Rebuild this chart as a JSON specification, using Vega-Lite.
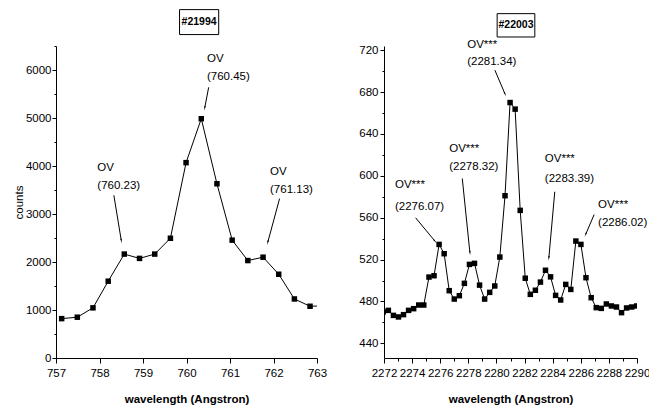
{
  "$schema": "https://vega.github.io/schema/vega-lite/v6.json",
  "background": "white",
  "padding": {"left": 13, "top": 9, "right": 0, "bottom": 0},
  "spacing": 31,
  "datasets": {
    "left": [
      {"x": 757.13, "y": 820}, {"x": 757.49, "y": 850}, {"x": 757.85, "y": 1045},
      {"x": 758.2, "y": 1600}, {"x": 758.57, "y": 2165}, {"x": 758.92, "y": 2075},
      {"x": 759.27, "y": 2165}, {"x": 759.63, "y": 2495}, {"x": 759.99, "y": 4070},
      {"x": 760.34, "y": 4985}, {"x": 760.7, "y": 3630}, {"x": 761.05, "y": 2455},
      {"x": 761.41, "y": 2030}, {"x": 761.76, "y": 2100}, {"x": 762.12, "y": 1745},
      {"x": 762.48, "y": 1230}, {"x": 762.84, "y": 1078}, {"x": 763.2, "y": 1088}
    ],
    "leftText": [
      {"x": 757.95, "y": 3952, "t": "OV"}, {"x": 757.95, "y": 3577, "t": "(760.23)"},
      {"x": 760.47, "y": 6238, "t": "OV"}, {"x": 760.47, "y": 5854, "t": "(760.45)"},
      {"x": 761.92, "y": 3875, "t": "OV"}, {"x": 761.92, "y": 3494, "t": "(761.13)"}
    ],
    "leftArrows": [
      {"x": 758.33, "y": 3390, "x2": 758.5, "y2": 2452},
      {"x": 760.51, "y": 5640, "x2": 760.42, "y2": 5217},
      {"x": 762.14, "y": 3321, "x2": 761.87, "y2": 2417}
    ],
    "leftBox": [{"x": 759.84, "x2": 760.74, "y": 7258, "y2": 6738, "cx": 760.29, "cy": 6998, "t": "#21994"}],
    "right": [
      {"x": 2271.95, "y": 470}, {"x": 2272.31, "y": 471.5}, {"x": 2272.67, "y": 466.7},
      {"x": 2273.03, "y": 465.2}, {"x": 2273.39, "y": 467.4}, {"x": 2273.75, "y": 471.5},
      {"x": 2274.11, "y": 473.1}, {"x": 2274.47, "y": 476.6}, {"x": 2274.83, "y": 476.6},
      {"x": 2275.2, "y": 503.3}, {"x": 2275.56, "y": 504.6}, {"x": 2275.92, "y": 534.5},
      {"x": 2276.28, "y": 525.6}, {"x": 2276.64, "y": 490.3}, {"x": 2277.0, "y": 482.3},
      {"x": 2277.36, "y": 485.5}, {"x": 2277.72, "y": 497.3}, {"x": 2278.08, "y": 515.4},
      {"x": 2278.44, "y": 516.4}, {"x": 2278.8, "y": 495.6}, {"x": 2279.16, "y": 482.3},
      {"x": 2279.52, "y": 488.7}, {"x": 2279.88, "y": 494.8}, {"x": 2280.24, "y": 522.4},
      {"x": 2280.61, "y": 581}, {"x": 2280.97, "y": 670}, {"x": 2281.33, "y": 663.7},
      {"x": 2281.69, "y": 567}, {"x": 2282.05, "y": 502.2}, {"x": 2282.41, "y": 486.8},
      {"x": 2282.77, "y": 490.7}, {"x": 2283.13, "y": 498.5}, {"x": 2283.49, "y": 509.8},
      {"x": 2283.85, "y": 503.5}, {"x": 2284.21, "y": 485.8}, {"x": 2284.57, "y": 481.4},
      {"x": 2284.93, "y": 496.3}, {"x": 2285.29, "y": 491.5}, {"x": 2285.65, "y": 537.7},
      {"x": 2286.01, "y": 534.5}, {"x": 2286.37, "y": 502.7}, {"x": 2286.74, "y": 483.6},
      {"x": 2287.1, "y": 474.1}, {"x": 2287.46, "y": 473.4}, {"x": 2287.82, "y": 477.6},
      {"x": 2288.18, "y": 475.7}, {"x": 2288.54, "y": 474.7}, {"x": 2288.9, "y": 469.3},
      {"x": 2289.26, "y": 473.8}, {"x": 2289.62, "y": 474.7}, {"x": 2289.98, "y": 475.7}
    ],
    "rightText": [
      {"x": 2272.78, "y": 591.1, "t": "OV***"}, {"x": 2272.78, "y": 570.4, "t": "(2276.07)"},
      {"x": 2276.64, "y": 626, "t": "OV***"}, {"x": 2276.64, "y": 608, "t": "(2278.32)"},
      {"x": 2277.92, "y": 725.3, "t": "OV***"}, {"x": 2277.92, "y": 708.8, "t": "(2281.34)"},
      {"x": 2283.44, "y": 616, "t": "OV***"}, {"x": 2283.44, "y": 596.5, "t": "(2283.39)"},
      {"x": 2287.23, "y": 572, "t": "OV***"}, {"x": 2287.23, "y": 554.5, "t": "(2286.02)"}
    ],
    "rightArrows": [
      {"x": 2274.25, "y": 559.9, "x2": 2275.62, "y2": 537.7},
      {"x": 2277.57, "y": 597.4, "x2": 2278.11, "y2": 526.8},
      {"x": 2279.89, "y": 700.9, "x2": 2280.6, "y2": 678.5},
      {"x": 2284.15, "y": 584.8, "x2": 2283.73, "y2": 521.8},
      {"x": 2286.95, "y": 563, "x2": 2286.36, "y2": 544.4}
    ],
    "rightBox": [{"x": 2280.05, "x2": 2282.73, "y": 754.9, "y2": 732.6, "cx": 2281.39, "cy": 743.7, "t": "#22003"}]
  },
  "hconcat": [
    {
      "width": 261,
      "height": 312,
      "encoding": {
        "x": {
          "field": "x", "type": "quantitative",
          "scale": {"domain": [757, 763], "nice": false, "zero": false},
          "axis": {
            "title": "wavelength (Angstron)", "titleFontWeight": "bold", "titlePadding": 15,
            "values": [757, 757.5, 758, 758.5, 759, 759.5, 760, 760.5, 761, 761.5, 762, 762.5, 763],
            "format": "d",
            "labelExpr": "datum.value % 1 === 0 ? datum.label : ''",
            "tickSize": {"condition": {"test": "datum.value % 1 === 0", "value": 5}, "value": 3},
            "labelPadding": 4
          }
        },
        "y": {
          "field": "y", "type": "quantitative",
          "scale": {"domain": [0, 6500], "nice": false, "zero": false},
          "axis": {
            "title": "counts", "titleFontWeight": "normal", "titlePadding": 1,
            "values": [0, 500, 1000, 1500, 2000, 2500, 3000, 3500, 4000, 4500, 5000, 5500, 6000, 6500],
            "format": "d",
            "labelExpr": "datum.value % 1000 === 0 ? datum.label : ''",
            "tickSize": {"condition": {"test": "datum.value % 1000 === 0", "value": 4}, "value": 2},
            "labelPadding": 1
          }
        }
      },
      "layer": [
        {"data": {"name": "left"}, "mark": {"type": "line", "color": "black", "strokeWidth": 1, "clip": true}},
        {"data": {"name": "left"}, "mark": {"type": "point", "shape": "square", "filled": true, "color": "black", "opacity": 1, "size": 30, "clip": true}},
        {"data": {"name": "leftText"}, "mark": {"type": "text", "align": "left", "baseline": "middle", "fontSize": 11.5, "color": "black"}, "encoding": {"text": {"field": "t"}}},
        {"data": {"name": "leftArrows"}, "mark": {"type": "rule", "color": "black", "strokeWidth": 1}, "encoding": {"x2": {"field": "x2"}, "y2": {"field": "y2"}}},
        {"data": {"name": "leftArrows"},
         "transform": [
           {"calculate": "atan2((datum.x2-datum.x)*43.6,(datum.y2-datum.y)*0.048)*180/PI", "as": "ang"},
           {"calculate": "datum.x2", "as": "x"},
           {"calculate": "datum.y2", "as": "y"}
         ],
         "mark": {"type": "point", "shape": "wedge", "filled": true, "color": "black", "opacity": 1, "size": 30},
         "encoding": {"angle": {"field": "ang", "type": "quantitative", "scale": null}}},
        {"data": {"name": "leftBox"}, "mark": {"type": "rect", "fill": "white", "stroke": "black", "strokeWidth": 1}, "encoding": {"x2": {"field": "x2"}, "y2": {"field": "y2"}}},
        {"data": {"name": "leftBox"},
         "transform": [{"calculate": "datum.cx", "as": "x"}, {"calculate": "datum.cy", "as": "y"}],
         "mark": {"type": "text", "align": "center", "baseline": "middle", "fontSize": 10.5, "fontWeight": "bold", "color": "black"},
         "encoding": {"text": {"field": "t"}}}
      ]
    },
    {
      "width": 253,
      "height": 312,
      "encoding": {
        "x": {
          "field": "x", "type": "quantitative",
          "scale": {"domain": [2272, 2290], "nice": false, "zero": false},
          "axis": {
            "title": "wavelength (Angstron)", "titleFontWeight": "bold", "titlePadding": 15,
            "values": [2272, 2273, 2274, 2275, 2276, 2277, 2278, 2279, 2280, 2281, 2282, 2283, 2284, 2285, 2286, 2287, 2288, 2289, 2290],
            "labelExpr": "datum.value % 2 === 0 ? datum.label : ''",
            "format": "d",
            "tickSize": {"condition": {"test": "datum.value % 2 === 0", "value": 5}, "value": 3},
            "labelPadding": 4
          }
        },
        "y": {
          "field": "y", "type": "quantitative",
          "scale": {"domain": [426, 724], "nice": false, "zero": false},
          "axis": {
            "title": null,
            "values": [440, 460, 480, 500, 520, 540, 560, 580, 600, 620, 640, 660, 680, 700, 720],
            "format": "d",
            "labelExpr": "datum.value % 40 === 0 ? datum.label : ''",
            "tickSize": {"condition": {"test": "datum.value % 40 === 0", "value": 4}, "value": 2},
            "labelPadding": 2
          }
        }
      },
      "layer": [
        {"data": {"name": "right"}, "mark": {"type": "line", "color": "black", "strokeWidth": 1, "clip": true}},
        {"data": {"name": "right"}, "mark": {"type": "point", "shape": "square", "filled": true, "color": "black", "opacity": 1, "size": 30, "clip": true}},
        {"data": {"name": "rightText"}, "mark": {"type": "text", "align": "left", "baseline": "middle", "fontSize": 11.5, "color": "black"}, "encoding": {"text": {"field": "t"}}},
        {"data": {"name": "rightArrows"}, "mark": {"type": "rule", "color": "black", "strokeWidth": 1}, "encoding": {"x2": {"field": "x2"}, "y2": {"field": "y2"}}},
        {"data": {"name": "rightArrows"},
         "transform": [
           {"calculate": "atan2((datum.x2-datum.x)*14.07,(datum.y2-datum.y)*1.047)*180/PI", "as": "ang"},
           {"calculate": "datum.x2", "as": "x"},
           {"calculate": "datum.y2", "as": "y"}
         ],
         "mark": {"type": "point", "shape": "wedge", "filled": true, "color": "black", "opacity": 1, "size": 30},
         "encoding": {"angle": {"field": "ang", "type": "quantitative", "scale": null}}},
        {"data": {"name": "rightBox"}, "mark": {"type": "rect", "fill": "white", "stroke": "black", "strokeWidth": 1}, "encoding": {"x2": {"field": "x2"}, "y2": {"field": "y2"}}},
        {"data": {"name": "rightBox"},
         "transform": [{"calculate": "datum.cx", "as": "x"}, {"calculate": "datum.cy", "as": "y"}],
         "mark": {"type": "text", "align": "center", "baseline": "middle", "fontSize": 10.5, "fontWeight": "bold", "color": "black"},
         "encoding": {"text": {"field": "t"}}}
      ]
    }
  ],
  "config": {
    "view": {"stroke": null},
    "font": "'Liberation Sans', Arial, sans-serif",
    "axis": {
      "grid": false, "domainColor": "black", "tickColor": "black", "labelColor": "black", "titleColor": "black",
      "labelFontSize": 11.5, "titleFontSize": 11.5, "labelFlush": false, "labelOverlap": false,
      "domainWidth": 1, "tickWidth": 1
    }
  }
}
